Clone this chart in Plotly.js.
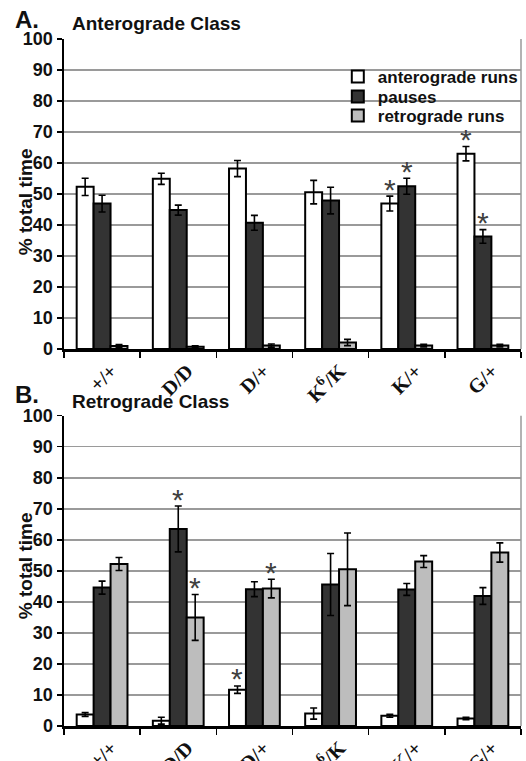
<!DOCTYPE html>
<html>
<head>
<meta charset="utf-8">
<script src="https://cdn.plot.ly/plotly-3.0.1.min.js"></script>
<style>html,body{margin:0;padding:0;background:#fff;}#chart{width:526px;height:761px;}</style>
</head>
<body>
<div id="chart"></div>
<script>
// ---- data ----
const categories = ['+/+', 'D/D', 'D/+', 'K<sup>6</sup>/K', 'K/+', 'G/+'];
const seriesNames = ['anterograde runs', 'pauses', 'retrograde runs'];

const antA = [52.3, 54.9, 58.2, 50.6, 46.9, 63.0];
const antAErr = [2.8, 1.8, 2.6, 3.8, 2.4, 2.3];
const pauseA = [46.9, 44.8, 40.7, 47.9, 52.5, 36.3];
const pauseAErr = [2.7, 1.6, 2.4, 4.3, 2.6, 2.2];
const retA = [1.0, 0.7, 1.1, 2.1, 1.1, 1.1];
const retAErr = [0.4, 0.3, 0.5, 1.0, 0.4, 0.4];

const antB = [3.7, 1.7, 11.7, 4.0, 3.3, 2.4];
const antBErr = [0.6, 1.1, 1.2, 1.8, 0.5, 0.4];
const pauseB = [44.6, 63.5, 44.1, 45.6, 44.0, 41.9];
const pauseBErr = [2.1, 7.4, 2.4, 10.0, 1.9, 2.7];
const retB = [52.2, 35.0, 44.3, 50.5, 53.0, 55.9];
const retBErr = [2.1, 7.4, 3.0, 11.7, 1.9, 3.1];

// significance markers (1 = asterisk)
const sigAntA = [0, 0, 0, 0, 1, 1];
const sigPauseA = [0, 0, 0, 0, 1, 1];
const sigRetA = [0, 0, 0, 0, 0, 0];
const sigAntB = [0, 0, 1, 0, 0, 0];
const sigPauseB = [0, 1, 0, 0, 0, 0];
const sigRetB = [0, 1, 1, 0, 0, 0];

// ---- styles ----
const fills = ['#ffffff', '#333333', '#bdbdbd'];
const legendIds = ['legend', 'legend2', 'legend3'];
const BARGAP = 0.333;

function barTrace(name, vals, errs, idx, xa, ya, showLegend) {
  return {
    type: 'bar', name: name, x: categories, y: vals,
    xaxis: xa, yaxis: ya, showlegend: showLegend, legend: legendIds[idx],
    marker: {color: fills[idx], line: {color: '#000', width: 2}},
    error_y: {type: 'data', array: errs, visible: true, color: '#000', thickness: 1.6, width: 3.5},
    hoverinfo: 'skip'
  };
}

const traces = [
  barTrace(seriesNames[0], antA, antAErr, 0, 'x', 'y', true),
  barTrace(seriesNames[1], pauseA, pauseAErr, 1, 'x', 'y', true),
  barTrace(seriesNames[2], retA, retAErr, 2, 'x', 'y', true),
  barTrace(seriesNames[0], antB, antBErr, 0, 'x2', 'y2', false),
  barTrace(seriesNames[1], pauseB, pauseBErr, 1, 'x2', 'y2', false),
  barTrace(seriesNames[2], retB, retBErr, 2, 'x2', 'y2', false)
];

// asterisk annotations computed from data (bar offsets from group layout)
const barW = (1 - BARGAP) / 3;
const offsets = [-barW, 0, barW];
const annotations = [];
function addStars(sig, vals, errs, idx, xa, ya) {
  sig.forEach((s, i) => {
    if (!s) return;
    annotations.push({
      xref: xa, yref: ya, x: i + offsets[idx], y: vals[i] + errs[i],
      text: '*', showarrow: false, yanchor: 'middle', yshift: 7,
      font: {family: 'Liberation Sans, Arial, sans-serif', size: 30, color: '#404040'}
    });
  });
}
addStars(sigAntA, antA, antAErr, 0, 'x', 'y');
addStars(sigPauseA, pauseA, pauseAErr, 1, 'x', 'y');
addStars(sigRetA, retA, retAErr, 2, 'x', 'y');
addStars(sigAntB, antB, antBErr, 0, 'x2', 'y2');
addStars(sigPauseB, pauseB, pauseBErr, 1, 'x2', 'y2');
addStars(sigRetB, retB, retBErr, 2, 'x2', 'y2');

// layout helpers (pixel -> paper)
const L = 64, R = 3, T = 39, B = 35, W = 526, H = 761;
const pw = W - L - R, ph = H - T - B;
const px = p => (p - L) / pw;
const py = p => (H - B - p) / ph;

const FONT = 'Liberation Sans, Arial, sans-serif';
const sansBold = {family: FONT, size: 18, color: '#111', weight: 'bold'};

function textAnn(text, x, y, size, extra) {
  return Object.assign({
    xref: 'paper', yref: 'paper', x: px(x), y: py(y), text: text, showarrow: false,
    xanchor: 'left', yanchor: 'middle',
    font: {family: FONT, size: size, color: '#111', weight: 'bold'}
  }, extra || {});
}
annotations.push(textAnn('A.', 13, 20, 24));
annotations.push(textAnn('Anterograde Class', 70, 23, 19));
annotations.push(textAnn('B.', 13, 395, 24));
annotations.push(textAnn('Retrograde Class', 70, 401, 19));
annotations.push(textAnn('% total time', 25, 202, 19, {xanchor: 'center', textangle: -90}));
annotations.push(textAnn('% total time', 25, 566, 19, {xanchor: 'center', textangle: -90}));

const xCommon = {
  type: 'category', categoryarray: categories, showline: true, linecolor: '#000', linewidth: 2.5,
  ticks: 'outside', tickson: 'boundaries', ticklen: 6, tickcolor: '#000', tickwidth: 1.5,
  tickangle: -45, ticklabelshift: 9, showgrid: false, automargin: false, fixedrange: true,
  tickfont: {family: 'Liberation Serif, Times New Roman, serif', size: 20, color: '#111', weight: 'bold'}
};
const yCommon = {
  range: [0, 100], dtick: 10, showgrid: true, gridcolor: '#9a9a9a', gridwidth: 1.5,
  showline: true, linecolor: '#000', linewidth: 2.5, zeroline: false,
  ticks: 'outside', ticklen: 5, tickcolor: '#000', tickwidth: 1.5, automargin: false,
  tickfont: sansBold, fixedrange: true
};

const yAbottom = py(349), yBtop = py(415.7);

function legendAt(topPx) {
  return {
    x: px(339), y: py(topPx), xanchor: 'left', yanchor: 'top',
    bgcolor: 'rgba(0,0,0,0)', borderwidth: 0,
    font: {family: FONT, size: 17, color: '#111', weight: 'bold'}
  };
}

const layout = {
  width: W, height: H,
  margin: {l: L, r: R, t: T, b: B, pad: 0},
  paper_bgcolor: '#fff', plot_bgcolor: '#fff',
  barmode: 'group', bargap: BARGAP, bargroupgap: 0,
  xaxis: Object.assign({}, xCommon, {anchor: 'y', domain: [0, 1]}),
  xaxis2: Object.assign({}, xCommon, {anchor: 'y2', domain: [0, 1]}),
  yaxis: Object.assign({}, yCommon, {anchor: 'x', domain: [yAbottom, 1]}),
  yaxis2: Object.assign({}, yCommon, {anchor: 'x2', domain: [0, yBtop]}),
  showlegend: true,
  legend: legendAt(59),
  legend2: legendAt(79),
  legend3: legendAt(98),
  annotations: annotations,
  shapes: [
    {type: 'line', xref: 'x domain', yref: 'y domain', x0: 1, x1: 1, y0: 0, y1: 1, line: {color: '#9a9a9a', width: 1.5}},
    {type: 'line', xref: 'x2 domain', yref: 'y2 domain', x0: 1, x1: 1, y0: 0, y1: 1, line: {color: '#9a9a9a', width: 1.5}}
  ]
};

Plotly.newPlot('chart', traces, layout, {displayModeBar: false, staticPlot: true});
</script>
</body>
</html>
